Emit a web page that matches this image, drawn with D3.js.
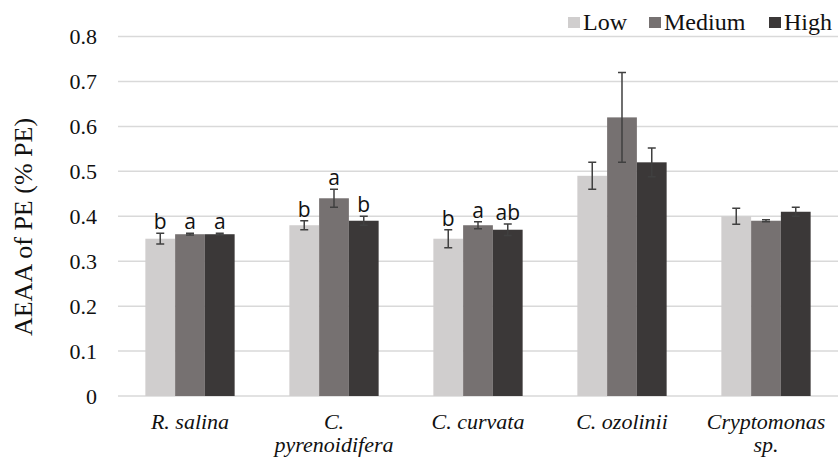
<html>
  <head>
    <title>AEAA of PE</title>
    <style>
      body { margin: 0; background: #fff; }
    </style>
    <script src="https://d3js.org/d3.v7.min.js"></script>
  </head>
  <body>
    <svg class="chart"></svg>
    <script>
var categories = ["R. salina", "C. pyrenoidifera", "C. curvata", "C. ozolinii", "Cryptomonas sp."];
var categoryLines = [["R. salina"], ["C.", "pyrenoidifera"], ["C. curvata"], ["C. ozolinii"], ["Cryptomonas", "sp."]];
var seriesNames = ["Low", "Medium", "High"];

var low = [0.35, 0.38, 0.35, 0.49, 0.40];
var medium = [0.36, 0.44, 0.38, 0.62, 0.39];
var high = [0.36, 0.39, 0.37, 0.52, 0.41];

var lowErr = [0.012, 0.01, 0.02, 0.03, 0.018];
var mediumErr = [0.002, 0.02, 0.008, 0.1, 0.002];
var highErr = [0.002, 0.01, 0.013, 0.032, 0.01];

var lowLetters = ["b", "b", "b", "", ""];
var mediumLetters = ["a", "a", "a", "", ""];
var highLetters = ["a", "b", "ab", "", ""];

var yTicks = [0, 0.1, 0.2, 0.3, 0.4, 0.5, 0.6, 0.7, 0.8];

var colors = {Low: "#d0cece", Medium: "#767171", High: "#3b3838"};

var serif = "'Liberation Serif', 'Times New Roman', serif";
var width = 838, height = 457;
var plotLeft = 118, plotRight = 838, plotTop = 36.5, plotBottom = 396;

var svg = d3.select(".chart").attr("width", width).attr("height", height);

var x = d3.scaleBand().domain(categories).range([plotLeft, plotRight])
    .paddingInner(0.38).paddingOuter(0.19);
var xs = d3.scaleBand().domain(seriesNames).range([0, x.bandwidth()]);
var y = d3.scaleLinear().domain([0, 0.8]).range([plotBottom, plotTop]);

// gridlines
svg.append("g").selectAll("line").data(yTicks).enter().append("line")
    .attr("x1", plotLeft).attr("x2", plotRight)
    .attr("y1", function(d) { return y(d); }).attr("y2", function(d) { return y(d); })
    .attr("stroke", "#d9d9d9").attr("stroke-width", 1.5);

// y axis labels
var yAxis = d3.axisLeft(y).tickValues(yTicks).tickSize(0).tickPadding(21)
    .tickFormat(function(d) { return d === 0 ? "0" : d3.format(".1f")(d); });
svg.append("g").attr("transform", "translate(" + plotLeft + ",0)").call(yAxis)
    .call(function(g) {
      g.select(".domain").remove();
      g.selectAll("text").style("font-family", serif).style("font-size", "22px").attr("fill", "#111");
    });

var rows = [];
categories.forEach(function(c, i) {
  rows.push({cat: c, s: "Low", v: low[i], e: lowErr[i], l: lowLetters[i]});
  rows.push({cat: c, s: "Medium", v: medium[i], e: mediumErr[i], l: mediumLetters[i]});
  rows.push({cat: c, s: "High", v: high[i], e: highErr[i], l: highLetters[i]});
});

var g = svg.append("g").selectAll("g").data(rows).enter().append("g")
    .attr("transform", function(d) { return "translate(" + (x(d.cat) + xs(d.s)) + ",0)"; });

g.append("rect")
    .attr("y", function(d) { return y(d.v); })
    .attr("height", function(d) { return y(0) - y(d.v); })
    .attr("width", xs.bandwidth())
    .attr("fill", function(d) { return colors[d.s]; });

var cx = xs.bandwidth() / 2;
var cap = 4;
g.append("path")
    .attr("d", function(d) {
      var y1 = y(d.v + d.e), y2 = y(d.v - d.e);
      return "M" + cx + "," + y1 + "V" + y2 +
        "M" + (cx - cap) + "," + y1 + "H" + (cx + cap) +
        "M" + (cx - cap) + "," + y2 + "H" + (cx + cap);
    })
    .attr("stroke", "#404040").attr("stroke-width", 1.5).attr("fill", "none");

g.append("text")
    .attr("x", cx)
    .attr("y", function(d) { return y(d.v + d.e) - 4; })
    .attr("text-anchor", "middle")
    .style("font-family", "'Open Sans', 'Liberation Sans', sans-serif")
    .style("font-size", "21px")
    .attr("fill", "#111")
    .text(function(d) { return d.l; });

// category labels
var cat = svg.append("g").selectAll("text").data(categories).enter().append("text")
    .attr("text-anchor", "middle")
    .style("font-family", serif).style("font-style", "italic").style("font-size", "22px")
    .attr("fill", "#111")
    .attr("x", function(d) { return x(d) + x.bandwidth() / 2; })
    .attr("y", 429);
cat.selectAll("tspan").data(function(d, i) { return categoryLines[i]; }).enter().append("tspan")
    .attr("x", function() { var p = d3.select(this.parentNode).datum(); return x(p) + x.bandwidth() / 2; })
    .attr("dy", function(d, i) { return i === 0 ? 0 : 22.7; })
    .text(function(d) { return d; });

// y title
svg.append("text")
    .attr("transform", "translate(32,227) rotate(-90)")
    .attr("text-anchor", "middle")
    .style("font-family", serif).style("font-size", "26px")
    .attr("fill", "#111")
    .text("AEAA of PE (% PE)");

// legend
var legendX = [568, 649, 769];
var legend = svg.append("g").selectAll("g").data(seriesNames).enter().append("g")
    .attr("transform", function(d, i) { return "translate(" + legendX[i] + ",0)"; });
legend.append("rect").attr("y", 17).attr("width", 12).attr("height", 11)
    .attr("fill", function(d) { return colors[d]; });
legend.append("text").attr("x", 15).attr("y", 30)
    .style("font-family", serif).style("font-size", "24px").attr("fill", "#111")
    .text(function(d) { return d; });
    </script>
  </body>
</html>
